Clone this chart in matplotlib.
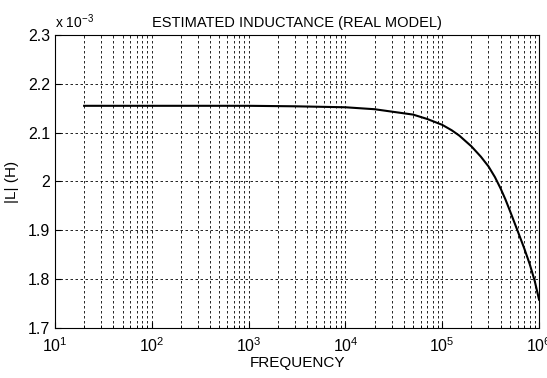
import numpy as np
import matplotlib
matplotlib.use("Agg")
import matplotlib.pyplot as plt
from matplotlib.ticker import LogLocator, NullFormatter

plt.rcParams['font.family'] = ['Liberation Sans', 'DejaVu Sans']
plt.rcParams['mathtext.fontset'] = 'custom'
plt.rcParams['mathtext.rm'] = 'Liberation Sans'
plt.rcParams['mathtext.it'] = 'Liberation Sans:italic'
plt.rcParams['mathtext.bf'] = 'Liberation Sans:bold'

# data (inductance in units of 1e-3 H)
freq = [20, 50, 100, 300, 1e3, 3e3, 1e4, 2e4, 5e4, 7e4, 1e5, 1.25e5,
        1.5e5, 2e5, 2.5e5, 3e5, 3.5e5, 4e5, 4.5e5, 5e5, 6e5, 7e5, 8e5,
        9e5, 1e6]
L_mH = [2.155, 2.155, 2.155, 2.155, 2.155, 2.154, 2.152, 2.148, 2.137,
        2.128, 2.116, 2.105, 2.094, 2.072, 2.051, 2.031, 2.009, 1.986,
        1.963, 1.940, 1.899, 1.864, 1.831, 1.797, 1.758]

yticks = [1.7, 1.8, 1.9, 2.0, 2.1, 2.2, 2.3]
ytick_labels = ["1.7", "1.8", "1.9", "2", "2.1", "2.2", "2.3"]
xticks = [1e1, 1e2, 1e3, 1e4, 1e5, 1e6]
xtick_labels = [r"$10^{1}$", r"$10^{2}$", r"$10^{3}$", r"$10^{4}$",
                r"$10^{5}$", r"$10^{6}$"]

fig = plt.figure(figsize=(5.47, 3.78), dpi=100)
ax = fig.add_axes([0.1005, 0.1323, 0.885, 0.7751])

ax.semilogx(freq, L_mH, color="k", lw=1.5)

ax.set_xlim(1e1, 1e6)
ax.set_ylim(1.7, 2.3)
ax.set_xticks(xticks)
ax.set_xticklabels(xtick_labels)
ax.xaxis.set_minor_locator(LogLocator(base=10, subs=np.arange(2, 10)))
ax.xaxis.set_minor_formatter(NullFormatter())
ax.set_yticks(yticks)
ax.set_yticklabels(ytick_labels)

grid_style = dict(color="k", linestyle=(0, (3, 3)), linewidth=0.6)
ax.grid(True, which="major", **grid_style)
ax.grid(True, which="minor", axis="x", **grid_style)

ax.tick_params(which="both", direction="in", labelsize=11.5, color="k")
ax.tick_params(which="major", length=4)
ax.tick_params(which="minor", length=2)
ax.tick_params(axis="x", pad=6)
for s in ax.spines.values():
    s.set_linewidth(0.8)

ax.set_title("ESTIMATED INDUCTANCE (REAL MODEL)", fontsize=10.5, pad=6)
ax.set_xlabel("FREQUENCY", fontsize=11, labelpad=1)
ax.set_ylabel("|L| (H)", fontsize=11, labelpad=6)
ax.text(0.0, 1.015, r"x $10^{-3}$", transform=ax.transAxes, fontsize=10,
        ha="left", va="bottom")

fig.savefig("out.png", dpi=100)
